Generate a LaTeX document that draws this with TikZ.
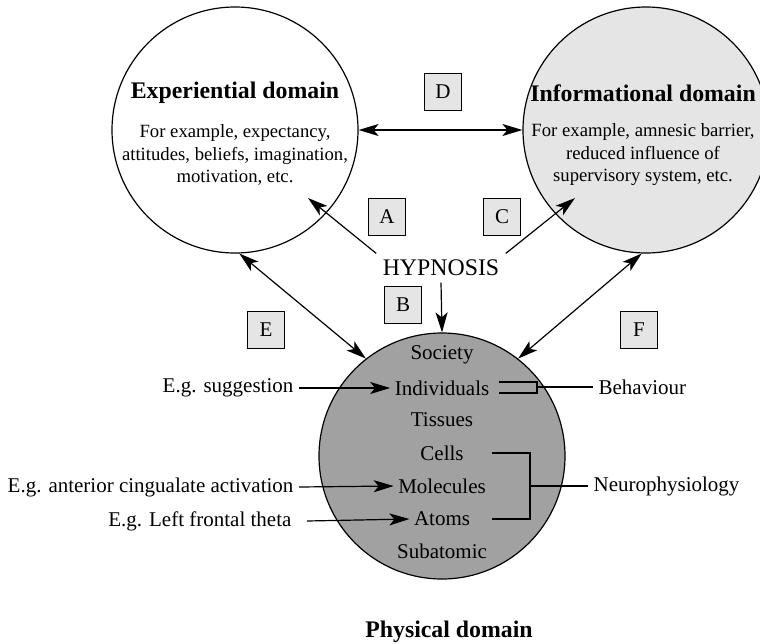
\documentclass[tikz,border=0pt]{standalone}
\usepackage{fontspec}
\setmainfont{Liberation Serif}
\usetikzlibrary{arrows.meta}
\tikzset{
  >={Stealth[length=10pt,width=6pt,inset=2.5pt]},
  domcirc/.style={circle, draw, minimum size=123pt, inner sep=0pt},
  heading/.style={font=\fontsize{11.9}{14}\selectfont\bfseries},
  blurb/.style={align=center, font=\fontsize{9.35}{11.25}\selectfont},
  letterbox/.style={draw, fill=black!10, minimum size=18.5pt, inner sep=0pt, font=\fontsize{10.5}{12}\selectfont},
  layer/.style={font=\fontsize{10.5}{12}\selectfont, inner sep=2pt},
  sidelabel/.style={font=\fontsize{10.5}{12}\selectfont, inner sep=2.5pt},
}

\begin{document}
\begin{tikzpicture}[x=0.5pt, y=-0.5pt, line width=0.6pt]
  \useasboundingbox (0,0) rectangle (760,643);

  % domains
  \node[domcirc] (expc) at (235,130) {};
  \node[domcirc, fill=black!10] (infc) at (646,130) {};
  \node[domcirc, fill=black!37] (physc) at (442,456) {};

  \node[heading] (exptitle) at (235,93) {Experiential domain};
  \node[blurb] (expnote) at (235,155) {For example, expectancy,\\attitudes, beliefs, imagination,\\motivation, etc.};
  \node[heading] (inftitle) at (643,93) {Informational domain};
  \node[blurb] (infnote) at (643,155) {For example, amnesic barrier,\\reduced influence of\\supervisory system, etc.};
  \node[heading, anchor=base] (phystitle) at (449,637) {Physical domain};

  % levels
  \node[layer] (society) at (442,355) {Society};
  \node[layer] (indiv) at (442,388) {Individuals};
  \node[layer] (tissues) at (442,420) {Tissues};
  \node[layer] (cells) at (442,453) {Cells};
  \node[layer] (molec) at (442,486) {Molecules};
  \node[layer] (atoms) at (442,519) {Atoms};
  \node[layer] (subat) at (442,551) {Subatomic};

  \node[heading, font=\fontsize{11.9}{14}\selectfont, inner sep=3pt] (hyp) at (441,268) {HYPNOSIS};

  % letters
  \node[letterbox] (boxd) at (443,92) {D};
  \node[letterbox] (boxa) at (387,217) {A};
  \node[letterbox] (boxc) at (502,217) {C};
  \node[letterbox] (boxb) at (403,305) {B};
  \node[letterbox] (boxe) at (266,330) {E};
  \node[letterbox] (boxf) at (639,330) {F};

  % side labels
  \node[sidelabel, anchor=east] (sugg) at (299,388) {E.g. suggestion};
  \node[sidelabel, anchor=east] (acc) at (299,487) {E.g. anterior cingualate activation};
  \node[sidelabel, anchor=east] (theta) at (297,521) {E.g. Left frontal theta};
  \node[sidelabel, anchor=west] (behav) at (593,387) {Behaviour};
  \node[sidelabel, anchor=west] (neuro) at (588,486) {Neurophysiology};

  \coordinate (atip) at (308,198);
  \coordinate (ctip) at (575,198);
  \coordinate (bbr) at (537,387);
  \coordinate (nbr) at (530,486);

  % arrows
  \draw[<->] (expc.east) -- (infc.west);
  \draw[->] (hyp.north west) -- (atip);
  \draw[->] (hyp.north east) -- (ctip);
  \draw[->] (hyp.south) -- (physc.north);
  \draw[<->] (expc.-88) -- (physc.128);
  \draw[<->] (infc.-92) -- (physc.52);

  \draw[->] (sugg.east) -- (indiv.west);
  \draw[->] (acc.east) -- (molec.west);
  \draw[->] ([xshift=5pt]theta.east) -- (atoms.west);

  % brackets
  \draw (499,382) -| (537,393) -- (499,393);
  \draw (bbr) -- (behav.west);
  \draw (492,453) -| (530,519) -- (492,519);
  \draw (nbr) -- (neuro.west);
\end{tikzpicture}
\end{document}
